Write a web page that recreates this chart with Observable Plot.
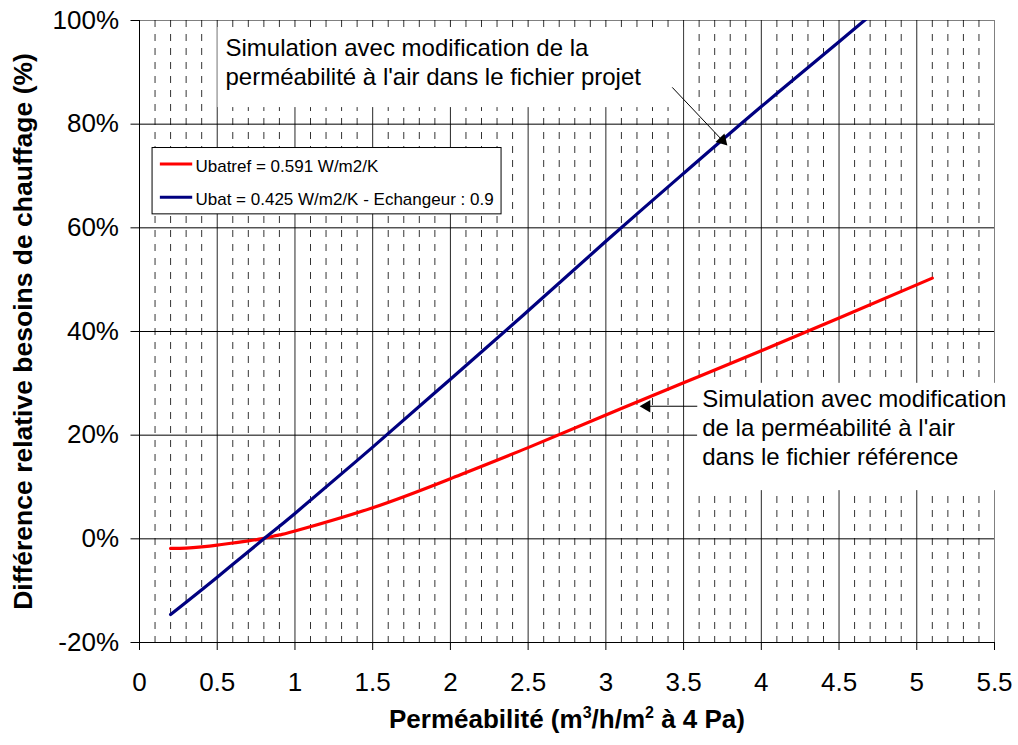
<!DOCTYPE html>
<html>
<head>
<meta charset="utf-8">
<script src="https://cdn.jsdelivr.net/npm/d3@7"></script>
<script src="https://cdn.jsdelivr.net/npm/@observablehq/plot@0.6"></script>
<style>
  html, body { margin: 0; padding: 0; background: #fff; }
  #chart svg { display: block; }
</style>
</head>
<body>
<div id="chart"></div>
<script>
// ---- data ----
const seriesNames = ["Ubatref = 0.591 W/m2/K", "Ubat = 0.425 W/m2/K - Echangeur : 0.9"];
const seriesColors = ["#FF0000", "#000080"];

const redX = [0.2, 0.3, 0.4, 0.5, 0.6, 0.7, 0.8, 0.9, 1.0, 1.5, 2.0, 2.5, 3.0, 3.5, 4.0, 4.5, 5.1];
const redY = [-1.85, -1.8, -1.55, -1.2, -0.8, -0.4, 0.1, 0.75, 1.5, 6.0, 11.6, 17.6, 23.9, 30.1, 36.3, 42.6, 50.3];

const blueX = [0.2, 0.5, 0.8, 1.0, 1.5, 2.0, 2.5, 3.0, 3.5, 4.0, 4.5, 5.1];
const blueY = [-14.6, -7.4, 0, 4.9, 17.7, 30.8, 44.0, 57.4, 70.5, 83.4, 95.9, 111];

const xTicks = [0, 0.5, 1, 1.5, 2, 2.5, 3, 3.5, 4, 4.5, 5, 5.5];
const yTicks = [-20, 0, 20, 40, 60, 80, 100];

const xTitleParts = ["Perméabilité (m", "3", "/h/m", "2", " à 4 Pa)"];
const yTitle = "Différence relative besoins de chauffage (%)";

const annotTop = ["Simulation avec modification de la", "perméabilité à l'air dans le fichier projet"];
const annotBottom = ["Simulation avec modification", "de la perméabilité à l'air", "dans le fichier référence"];

// ---- build ----
const xTitle = xTitleParts.join("");
const red = redX.map((x, i) => ({x, y: redY[i]}));
const blue = blueX.map((x, i) => ({x, y: blueY[i]}));
const minorX = d3.range(1, 55).filter(i => i % 5 !== 0).map(i => i / 10);
const hGrid = yTicks.filter(v => v > -20 && v < 100);

// annotation layout (data space)
const topLines = annotTop.map((t, i) => ({t, x: 0.553, y: [94.7, 89.1][i]}));
const botLines = annotBottom.map((t, i) => ({t, x: 3.62, y: [26.9, 21.3, 15.8][i]}));
const whiteBoxes = [
  {x1: 0.505, x2: 3.5, y1: 83.2, y2: 98.65},
  {x1: 3.59, x2: 5.62, y1: 9.3, y2: 30.0}
];
const legendBox = [{x1: 0.084, x2: 2.329, y1: 62.6, y2: 75.4}];
const legendRows = seriesNames.map((name, i) => ({name, color: seriesColors[i], y: [72.3, 65.9][i]}));
const arrows = [
  {x1: 3.427, y1: 87.1, x2: 3.75, y2: 76.86, rot: 136.4},
  {x1: 3.588, y1: 25.58, x2: 3.263, y2: 25.58, rot: -90}
];

const font = "'Liberation Sans', Arial, Helvetica, sans-serif";

const chart = Plot.plot({
  width: 1018,
  height: 745,
  marginLeft: 139,
  marginRight: 24,
  marginTop: 20,
  marginBottom: 103,
  style: {fontFamily: font, fontSize: "26px", color: "#000", background: "#fff", overflow: "visible"},
  x: {domain: [0, 5.5], label: null},
  y: {domain: [-20, 100], label: null},
  marks: [
    Plot.frame({stroke: "#808080"}),
    Plot.ruleX(minorX, {stroke: "#000", strokeWidth: 1, strokeDasharray: "7,7", strokeOpacity: 0.8}),
    Plot.ruleX(xTicks.filter(v => v > 0 && v < 5.5), {stroke: "#000", strokeWidth: 1, strokeOpacity: 0.85}),
    Plot.ruleY(hGrid, {stroke: "#000", strokeWidth: 1}),
    Plot.rect(whiteBoxes, {x1: "x1", x2: "x2", y1: "y1", y2: "y2", fill: "#fff"}),
    Plot.ruleX([0], {stroke: "#000", strokeWidth: 1}),
    Plot.ruleY([-20], {stroke: "#000", strokeWidth: 1}),
    Plot.line(red, {x: "x", y: "y", stroke: seriesColors[0], strokeWidth: 3.2, curve: "natural"}),
    Plot.line(blue, {x: "x", y: "y", stroke: seriesColors[1], strokeWidth: 3.2, curve: "natural", clip: true}),
    // legend
    Plot.rect(legendBox, {x1: "x1", x2: "x2", y1: "y1", y2: "y2", fill: "#fff", stroke: "#000", strokeWidth: 1}),
    Plot.link(legendRows, {x1: 0.131, x2: 0.339, y1: "y", y2: "y", stroke: "color", strokeWidth: 3}),
    Plot.text(legendRows, {x: 0.36, y: "y", text: "name", textAnchor: "start", fontSize: 17, dy: 2, fill: "#000"}),
    // annotations
    Plot.text(topLines, {x: "x", y: "y", text: "t", textAnchor: "start", fontSize: 24, fill: "#000"}),
    Plot.text(botLines, {x: "x", y: "y", text: "t", textAnchor: "start", fontSize: 24, fill: "#000"}),
    Plot.link(arrows, {x1: "x1", y1: "y1", x2: "x2", y2: "y2", stroke: "#000", strokeWidth: 1}),
    Plot.dot(arrows, {x: "x2", y: "y2", symbol: "triangle", r: 4.6, fill: "#000", stroke: "none", rotate: "rot"}),
    // axes
    Plot.axisX({ticks: xTicks, tickSize: 8, tickPadding: 22, tickFormat: d => String(d), fontSize: 26, label: null}),
    Plot.axisY({ticks: yTicks, tickSize: 8.5, tickPadding: 12, tickFormat: d => d + "%", fontSize: 26, label: null}),
    Plot.text([xTitle], {frameAnchor: "bottom", dy: 85, textAnchor: "middle", fontWeight: "bold", fontSize: 26, fill: "#000"}),
    Plot.text([yTitle], {frameAnchor: "left", dx: -115.5, textAnchor: "middle", rotate: -90, fontWeight: "bold", fontSize: 26.5, fill: "#000"})
  ]
});

// render superscripts in the x-axis title
d3.select(chart).selectAll("text")
  .filter(function() { return this.textContent === xTitle; })
  .each(function() {
    const t = d3.select(this);
    t.text(null);
    xTitleParts.forEach((p, i) => {
      const ts = t.append("tspan").text(p);
      if (i === 1 || i === 3) ts.attr("font-size", "16px").attr("dy", "-10px");
      else if (i > 0) ts.attr("dy", "10px");
    });
  });

document.getElementById("chart").append(chart);
</script>
</body>
</html>
